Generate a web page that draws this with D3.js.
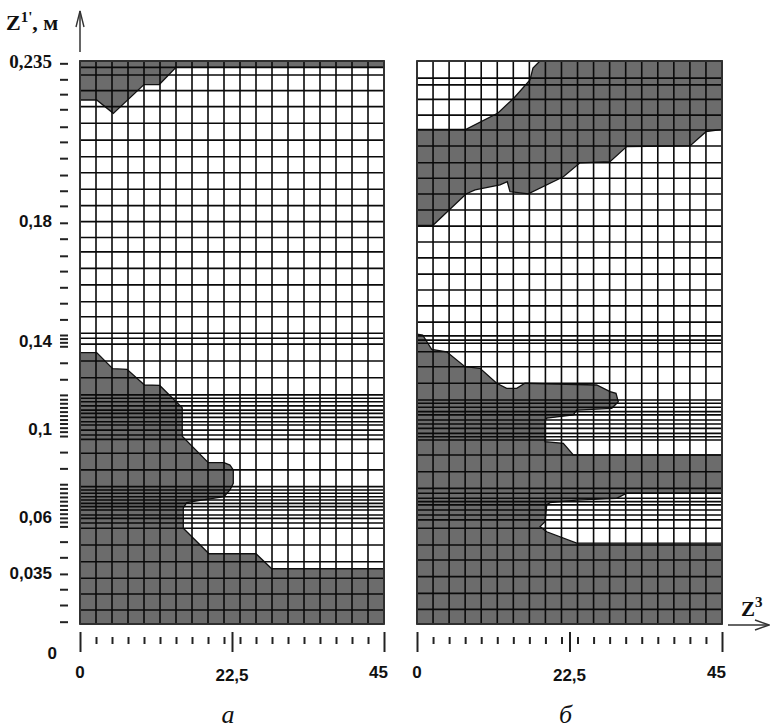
<!DOCTYPE html>
<html>
<head>
<meta charset="utf-8">
<script src="https://cdn.jsdelivr.net/npm/d3@7"></script>
<style>
  body { margin: 0; background: #fff; }
  text { fill: #111; }
</style>
</head>
<body>
<svg id="chart" width="770" height="728"></svg>
<script>
// Z1' axis labels (m) and their text
const yLabelValues = [0, 0.035, 0.06, 0.1, 0.14, 0.18, 0.235];
const yLabelTexts = ["0", "0,035", "0,06", "0,1", "0,14", "0,18", "0,235"];
// Z3 axis labels
const xLabelValues = [0, 22.5, 45];
const xLabelTexts = ["0", "22,5", "45"];
const nCols = 19;          // mesh columns along Z3
const zMax = 45;

// mesh node marks on the Z1' axis (m)
const yTicks = [0.2342, 0.2287, 0.2236, 0.2184, 0.2124, 0.2072, 0.2016, 0.1958, 0.1904, 0.1852,
  0.1794, 0.1741, 0.1684, 0.1633, 0.1579, 0.1526, 0.1472, 0.1420, 0.1408, 0.1394, 0.1376,
  0.1301, 0.1226, 0.1155, 0.1135, 0.1117, 0.1098, 0.1079, 0.1061, 0.1043, 0.1025, 0.1006,
  0.0988, 0.0968, 0.0895, 0.0821, 0.0749, 0.0730, 0.0710, 0.0691, 0.0672, 0.0653, 0.0634,
  0.0615, 0.0596, 0.0578, 0.0558, 0.0490, 0.0420, 0.0346, 0.0279, 0.0210, 0.0137];

// mesh row edges (m), panel а
const rowsA = [0.235, 0.2328, 0.2302, 0.2248, 0.2193, 0.2136, 0.2078, 0.2021, 0.1966, 0.1909,
  0.1853, 0.1798, 0.1745, 0.1697, 0.1642, 0.1587, 0.1531, 0.1481, 0.1426, 0.1409, 0.1386,
  0.1309, 0.1233, 0.1155, 0.1140, 0.1124, 0.1105, 0.1086, 0.1071, 0.1053, 0.1033, 0.1018,
  0.0995, 0.0973, 0.0953, 0.0890, 0.0814, 0.0738, 0.0723, 0.0708, 0.0692, 0.0677, 0.0662,
  0.0647, 0.0632, 0.0609, 0.0594, 0.0573, 0.0550, 0.0475, 0.0400, 0.0327, 0.0258, 0.0188, 0.0127];

// mesh row edges (m), panel б
const rowsB = [0.235, 0.2291, 0.2268, 0.2218, 0.2164, 0.2113, 0.2058, 0.2000, 0.1947, 0.1893,
  0.1838, 0.1783, 0.1730, 0.1677, 0.1623, 0.1570, 0.1517, 0.1463, 0.1417, 0.1403, 0.1390,
  0.1351, 0.1283, 0.1208, 0.1132, 0.1117, 0.1099, 0.1079, 0.1064, 0.1041, 0.1023, 0.1003,
  0.0980, 0.0965, 0.0950, 0.0882, 0.0806, 0.0730, 0.0708, 0.0685, 0.0670, 0.0655, 0.0632,
  0.0609, 0.0587, 0.0550, 0.0475, 0.0408, 0.0334, 0.0261, 0.0191, 0.0127];

// dark zones, [Z3, Z1'] outlines
const darkA = [
  [[0, 0.235], [45, 0.235], [45, 0.2328], [14.21, 0.2328], [11.74, 0.2269], [9.47, 0.2269],
   [4.93, 0.2170], [2.47, 0.2216], [0, 0.2216]],
  [[0, 0.1347], [2.47, 0.1347], [4.84, 0.1274], [6.96, 0.1271], [9.55, 0.12], [11.80, 0.1198],
   [15.13, 0.1096], [15.13, 0.0967], [18.99, 0.0847], [21.32, 0.0847], [22.20, 0.0836],
   [22.69, 0.0814], [22.69, 0.0753], [22.20, 0.0723], [21.32, 0.0692], [18.01, 0.0677],
   [15.79, 0.0665], [15.29, 0.0641], [15.29, 0.0550], [19.10, 0.0436], [26.05, 0.0436],
   [28.38, 0.0369], [45, 0.0369], [45, 0.0127], [0, 0.0127]]
];
const darkB = [
  [[0, 0.2115], [7.23, 0.2115], [11.95, 0.2171], [14.31, 0.2223], [16.67, 0.2285], [17.11, 0.2326],
   [18.15, 0.235], [45, 0.235], [45, 0.2115], [42.64, 0.2107], [40.28, 0.2058], [30.94, 0.2056],
   [28.48, 0.2004], [24.05, 0.2000], [21.59, 0.1952], [16.42, 0.1893], [13.72, 0.1901],
   [13.32, 0.1935], [12.25, 0.1924], [8.56, 0.1907], [7.23, 0.1893], [2.32, 0.1785], [0, 0.1785]],
  [[0, 0.1423], [0.84, 0.1420], [2.17, 0.1362], [4.38, 0.1351], [7.08, 0.1283], [9.30, 0.1276],
   [11.76, 0.1208], [13.23, 0.1185], [14.71, 0.1185], [15.93, 0.1208], [26.51, 0.1200],
   [28.48, 0.1170], [29.36, 0.1162], [29.70, 0.1124], [28.73, 0.1094], [23.56, 0.1086],
   [23.06, 0.1064], [19.14, 0.1049], [18.89, 0.1041], [18.89, 0.0942], [21.59, 0.0935],
   [23.06, 0.0882], [45, 0.0882], [45, 0.0708], [30.94, 0.0708], [29.46, 0.0685], [23.56, 0.0677],
   [19.62, 0.0665], [19.14, 0.0655], [18.89, 0.0579], [18.15, 0.0557], [19.14, 0.0534],
   [23.56, 0.0483], [45, 0.0483], [45, 0.0127], [0, 0.0127]]
];

const svg = d3.select("#chart");
const serif = "'Liberation Serif', 'DejaVu Serif', serif";
const sans = "'Liberation Sans', Arial, sans-serif";

// Z1' scale: the drawing is not to scale, so it is piecewise linear between labels
const y = d3.scaleLinear()
  .domain(yLabelValues)
  .range([653, 573, 517, 429, 341, 221, 61]);

const colEdges = d3.range(nCols + 1).map(i => i * zMax / nCols);

function drawPanel(x, rows, zones, letter) {
  const g = svg.append("g");
  const top = y(rows[0]), bottom = y(rows[rows.length - 1]);

  g.append("rect")
    .attr("x", x(0)).attr("y", top)
    .attr("width", x(zMax) - x(0)).attr("height", bottom - top)
    .attr("fill", "#fff");

  const line = d3.line().x(d => x(d[0])).y(d => y(d[1]));
  g.selectAll("path.zone")
    .data(zones)
    .enter()
    .append("path")
    .attr("class", "zone")
    .attr("d", d => line(d) + "Z")
    .attr("fill", "#6c6c6c")
    .attr("stroke", "#111")
    .attr("stroke-width", 1.3);

  // mesh
  g.selectAll("line.row")
    .data(rows)
    .enter()
    .append("line")
    .attr("class", "row")
    .attr("x1", x(0)).attr("x2", x(zMax))
    .attr("y1", d => y(d)).attr("y2", d => y(d))
    .attr("stroke", "#0a0a0a").attr("stroke-width", 1.6);
  g.selectAll("line.col")
    .data(colEdges)
    .enter()
    .append("line")
    .attr("class", "col")
    .attr("x1", d => x(d)).attr("x2", d => x(d))
    .attr("y1", top).attr("y2", bottom)
    .attr("stroke", "#0a0a0a").attr("stroke-width", 1.6);
  g.append("rect")
    .attr("x", x(0)).attr("y", top)
    .attr("width", x(zMax) - x(0)).attr("height", bottom - top)
    .attr("fill", "none").attr("stroke", "#333").attr("stroke-width", 1.8);

  // Z3 axis: minor marks at every mesh column, long marks at the labels
  const minor = d3.axisBottom(x).tickValues(colEdges.slice(1, -1)).tickSize(7).tickFormat("");
  const major = d3.axisBottom(x).tickValues(xLabelValues).tickSize(20).tickFormat("");
  [[minor, 637], [major, 632]].forEach(([ax, ty]) => {
    const a = g.append("g").attr("transform", `translate(0,${ty})`).call(ax);
    a.select(".domain").remove();
    a.selectAll("line").attr("stroke", "#222").attr("stroke-width", 2);
  });
  g.selectAll("text.xl")
    .data(xLabelValues)
    .enter()
    .append("text")
    .attr("class", "xl")
    .attr("x", (d, i) => x(d) + (i === 2 ? 4 : 0))
    .attr("y", (d, i) => i === 1 ? 681 : 678)
    .attr("text-anchor", (d, i) => i === 2 ? "end" : "middle")
    .attr("font-family", sans).attr("font-weight", "bold").attr("font-size", 17)
    .text((d, i) => xLabelTexts[i]);

  g.append("text")
    .attr("x", (x(0) + x(zMax)) / 2 - 4)
    .attr("y", 723)
    .attr("text-anchor", "middle")
    .attr("font-family", serif).attr("font-style", "italic").attr("font-size", 26)
    .text(letter);
}

drawPanel(d3.scaleLinear().domain([0, zMax]).range([80, 384]), rowsA, darkA, "а");
drawPanel(d3.scaleLinear().domain([0, zMax]).range([417, 722]), rowsB, darkB, "б");

// Z1' axis marks and labels
const yAxis = d3.axisLeft(y).tickValues(yTicks).tickSize(8).tickFormat("");
const ya = svg.append("g").attr("transform", "translate(68,0)").call(yAxis);
ya.select(".domain").remove();
ya.selectAll("line").attr("stroke", "#222").attr("stroke-width", 2);

svg.selectAll("text.yl")
  .data(yLabelValues)
  .enter()
  .append("text")
  .attr("class", "yl")
  .attr("x", (d, i) => i === 0 ? 57 : 52)
  .attr("y", d => y(d))
  .attr("dy", "0.36em")
  .attr("text-anchor", "end")
  .attr("font-family", (d, i) => i === 6 ? serif : sans)
  .attr("font-weight", "bold")
  .attr("font-size", (d, i) => i === 6 ? 19 : 17)
  .text((d, i) => yLabelTexts[i]);

// axis titles and arrows
const yt = svg.append("text").attr("x", 6).attr("y", 30)
  .attr("font-family", serif).attr("font-weight", "bold").attr("font-size", 22);
yt.append("tspan").text("Z");
yt.append("tspan").attr("dy", -8).attr("font-size", 15).text("1'");
yt.append("tspan").attr("dy", 8).text(", м");

svg.append("line").attr("x1", 80).attr("x2", 80).attr("y1", 52).attr("y2", 11)
  .attr("stroke", "#333").attr("stroke-width", 1.5);
svg.append("path").attr("d", "M76,27L80,11L84,27")
  .attr("fill", "none").attr("stroke", "#333").attr("stroke-width", 1.4);

const xt = svg.append("text").attr("x", 741).attr("y", 616)
  .attr("font-family", serif).attr("font-weight", "bold").attr("font-size", 21);
xt.append("tspan").text("Z");
xt.append("tspan").attr("dy", -9).attr("font-size", 15).text("3");

svg.append("line").attr("x1", 728).attr("x2", 769).attr("y1", 625).attr("y2", 625)
  .attr("stroke", "#333").attr("stroke-width", 1.5);
svg.append("path").attr("d", "M755,620L769,625L755,630")
  .attr("fill", "none").attr("stroke", "#333").attr("stroke-width", 1.4);
</script>
</body>
</html>
